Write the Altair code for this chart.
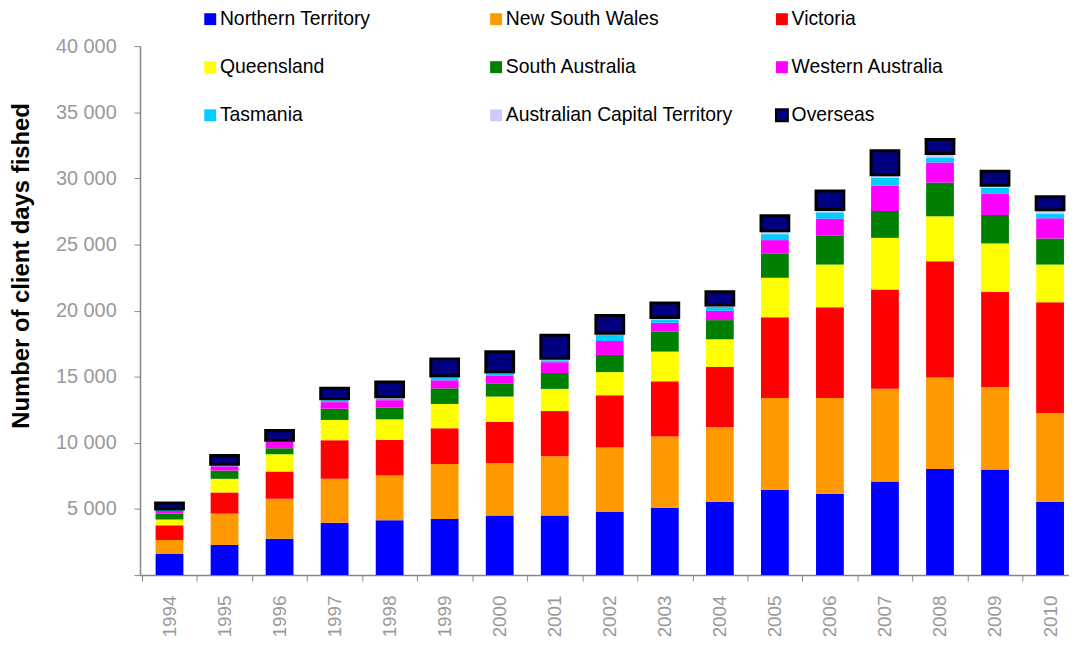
import altair as alt
import pandas as pd

years = list(range(1994, 2011))
series = ["Northern Territory", "New South Wales", "Victoria",
          "Queensland", "South Australia", "Western Australia",
          "Tasmania", "Australian Capital Territory", "Overseas"]
colors = ["#0000FF", "#FF9900", "#FF0000", "#FFFF00", "#008000",
          "#FF00FF", "#00CCFF", "#CCCCFF", "#000080"]

northern_territory = [1600, 2280, 2750, 3950, 4150, 4250, 4500, 4500, 4780, 5100, 5550, 6450, 6150, 7080, 8030, 7980, 5550]
new_south_wales    = [1050, 2370, 3030, 3330, 3380, 4150, 3980, 4480, 4870, 5380, 5650, 6950, 7250, 7020, 6920, 6250, 6700]
victoria           = [1125, 1600, 2050, 2920, 2700, 2700, 3100, 3420, 3950, 4170, 4550, 6100, 6850, 7500, 8780, 7200, 8380]
queensland         = [425, 1030, 1300, 1530, 1550, 1840, 1920, 1680, 1750, 2250, 2080, 2980, 3230, 3900, 3400, 3650, 2850]
south_australia    = [430, 620, 470, 850, 900, 1180, 1000, 1200, 1300, 1500, 1450, 1850, 2170, 2030, 2550, 2150, 1970]
western_australia  = [220, 330, 480, 500, 550, 610, 600, 820, 1050, 680, 700, 1000, 1300, 1920, 1520, 1600, 1530]
tasmania           = [80, 70, 70, 150, 120, 170, 130, 150, 450, 250, 300, 450, 480, 580, 380, 450, 350]
act                = [70, 80, 50, 100, 130, 150, 120, 150, 130, 150, 150, 250, 220, 250, 300, 200, 300]
overseas           = [450, 670, 730, 800, 1120, 1300, 1530, 1730, 1350, 1100, 1000, 1150, 1400, 1800, 1050, 1050, 970]

all_values = [northern_territory, new_south_wales, victoria, queensland,
              south_australia, western_australia, tasmania, act, overseas]

rows = []
for si, (name, vals) in enumerate(zip(series, all_values)):
    for yr, v in zip(years, vals):
        rows.append({"year": yr, "series": name, "days": v, "idx": si})
df = pd.DataFrame(rows)

legend = alt.Legend(
    title=None, orient="none", legendX=61, legendY=-37, columns=3,
    direction="horizontal",
    symbolType="square", symbolSize=144, symbolStrokeWidth=2,
    labelFontSize=19.5, labelColor="#000000", labelFont="Liberation Sans",
    labelOffset=0, columnPadding=38, rowPadding=27.5, gridAlign="all",
    labelLimit=0, padding=0,
)

gray_axis = "#868686"
gray_label = "#999999"

# one year step is 55.45 px; half a step for ticks between bars
half_step = 27.7

chart = alt.Chart(df).mark_bar(strokeWidth=3, size=28).encode(
    x=alt.X("year:Q",
            scale=alt.Scale(domain=[1993.464, 2010.344], nice=False,
                            zero=False, padding=0),
            axis=alt.Axis(title=None, values=years, format="d",
                          labelAngle=-90, tickOffset=-half_step,
                          labelOffset=half_step,
                          tickSize=6, labelPadding=14, labelFontSize=19,
                          labelColor=gray_label, domainColor=gray_axis,
                          tickColor=gray_axis, domainWidth=1.5, grid=False)),
    y=alt.Y("days:Q", stack="zero",
            scale=alt.Scale(domain=[0, 40000], nice=False),
            axis=alt.Axis(values=list(range(0, 40001, 5000)),
                          labelExpr="datum.value == 0 ? '' : replace(format(datum.value, ','), ',', ' ')",
                          title="Number of client days fished",
                          titleFontSize=24, titleFontWeight="bold",
                          titleColor="#000000", titleX=-119, titleY=221,
                          titleAngle=-90, titleBaseline="middle",
                          titleAlign="center",
                          tickSize=6, labelPadding=18, labelFontSize=20,
                          labelColor=gray_label, domainColor=gray_axis,
                          tickColor=gray_axis, domainWidth=1.5, grid=False)),
    color=alt.Color("series:N", sort=series,
                    scale=alt.Scale(domain=series, range=colors),
                    legend=legend),
    stroke=alt.Stroke("series:N", sort=series,
                      scale=alt.Scale(domain=series,
                                      range=["transparent"] * 8 + ["#000000"]),
                      legend=legend),
    order=alt.Order("idx:Q", sort="ascending"),
).properties(
    width=936, height=533,
    autosize=alt.AutoSizeParams(type="none"),
    padding={"left": 133, "top": 36, "right": 0, "bottom": 62},
).configure(
    font="Liberation Sans",
).configure_view(stroke=None).configure_axis(grid=False)

chart.save("out.html", embed_options={"renderer": "svg", "actions": False})
